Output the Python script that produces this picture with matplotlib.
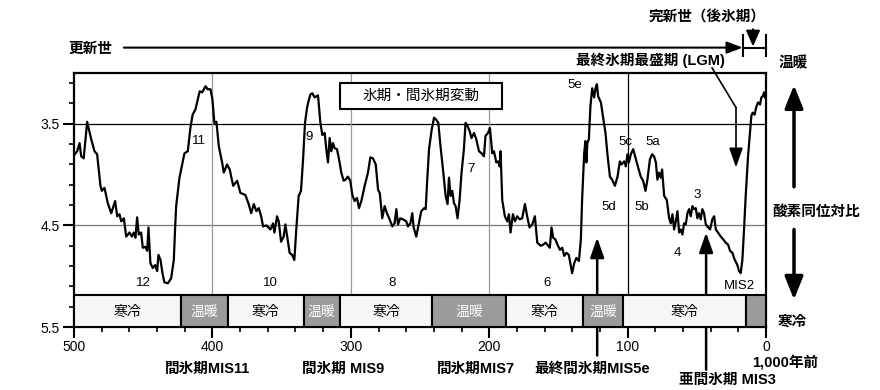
import matplotlib
matplotlib.use("Agg")
from matplotlib import pyplot as plt
from matplotlib.patches import Rectangle

plt.rcParams['font.family'] = ['Liberation Sans', 'Noto Sans CJK JP', 'DejaVu Sans']

# 酸素同位体比 (千年前 / 値) 図から読み取り
age = [500, 497.7, 496, 494.8, 493, 490.5, 487.6, 485.2, 483.3, 480.9, 479.9, 478, 475.6, 473.1,
       470.3, 468.8, 467.1, 465.9, 464, 462.3, 459.9, 458.2, 456.8, 455.6, 454.4, 453.2, 451.5,
       450.3, 448.6, 447.1, 446.2, 444.8, 443.1, 441.4, 439.9, 439, 437.5, 436.1, 434.7, 432.2,
       429.8, 427.9, 426.9, 426.2, 423.8, 422.6, 420.2, 417.8, 415.9, 414.3, 412.3, 410.6, 409.2,
       407.4, 405, 403.4, 401.4, 400, 398.6, 397.1, 395.4, 393, 391.8, 389.4, 387.5, 385, 382.1,
       379.8, 376.2, 373.8, 372, 370.1, 368.2, 366.5, 364.8, 363.4, 361, 358.1, 356.2, 355.2,
       353.3, 352.1, 350.4, 348.5, 347.3, 345.6, 344.2, 342.4, 340.8, 339.4, 337.7, 336, 334.5,
       333.1, 331.6, 330.8, 329.2, 327.8, 326.1, 324.9, 323.7, 323, 322, 320.6, 318.9, 317.7,
       316.5, 315.3, 314.1, 312.9, 311.7, 310, 308.5, 306.9, 305.2, 303.8, 302.1, 300.4, 298.9,
       297.3, 295.5, 294.1, 292.4, 290, 287.6, 285.9, 284, 282, 280.3, 279.1, 277.3, 275.6,
       273.9, 272, 270, 268.4, 267.1, 265.9, 264.3, 262.3, 259.9, 258.7, 257, 255.6, 254.6,
       252.7, 250.8, 249.1, 247, 245.9, 244.8, 243.5, 241.6, 239.9, 238.3, 236.8, 235.2, 233.4,
       231.5, 230.1, 229.1, 227.9, 226.7, 225.5, 224.3, 222.9, 221.4, 220, 218.3, 217.1, 215.7,
       214.2, 212.8, 211, 209.4, 207.4, 205.6, 203.8, 202.7, 200.9, 199.5, 197.8, 196.6, 194.9,
       193.4, 192.5, 191.8, 190.6, 188.7, 187, 185.8, 184.6, 182.9, 181.4, 179.8, 178.1, 176.2,
       174.2, 172.6, 170.9, 168.9, 167, 165.3, 162.7, 161, 159.4, 157.9, 156.2, 155, 153.8,
       152.1, 150.7, 148.9, 147.3, 145.8, 144.2, 142.5, 141, 140.1, 138.6, 137, 135.2, 133.8,
       132.9, 131.4, 130.5, 129.8, 129.1, 128, 126.9, 125.6, 124.2, 123.2, 122.2, 121.3, 119.3,
       117.7, 116, 114.6, 112.8, 111.2, 109.2, 107.3, 105.6, 104.4, 102.5, 101.3, 100.1, 99.1,
       97.7, 96, 94.4, 92.4, 90.5, 88.8, 87.1, 85.7, 83.9, 82.3, 80.9, 79.6, 78.5, 77.3, 76,
       75.1, 73.6, 71.7, 70, 68.8, 67.6, 66.4, 65.2, 64, 62.8, 61.6, 60.4, 59.2, 58, 56.8, 55.6,
       54.4, 53.2, 52, 50.8, 49.6, 48.4, 47.2, 46, 44.8, 43.5, 42.4, 40.4, 38.8, 37.5, 36.3,
       34.7, 32.7, 30.8, 29.1, 27.4, 26, 24.3, 22.6, 20.7, 19.5, 18.3, 17.1, 15.9, 14.7, 13,
       11.6, 10.6, 9.6, 8.2, 7.2, 5.8, 4.3, 3.4, 2.4, 1.4, 0.7]
d18o = [3.81, 3.77, 3.69, 3.82, 3.84, 3.48, 3.65, 3.77, 3.80, 4.11, 4.16, 4.13, 4.28, 4.38,
        4.26, 4.41, 4.39, 4.46, 4.43, 4.61, 4.57, 4.61, 4.57, 4.62, 4.42, 4.59, 4.57,
        4.72, 4.71, 4.75, 4.52, 4.87, 4.92, 4.89, 4.95, 4.79, 4.84, 4.97, 5.06, 5.07,
        5.02, 4.84, 4.51, 4.31, 4.03, 3.95, 3.79, 3.77, 3.54, 3.41, 3.36, 3.26, 3.18,
        3.19, 3.13, 3.16, 3.16, 3.26, 3.49, 3.48, 3.72, 3.88, 3.98, 3.90, 3.95, 4.11, 4.06,
        4.18, 4.20, 4.29, 4.38, 4.29, 4.36, 4.33, 4.41, 4.51, 4.50, 4.54, 4.48, 4.57,
        4.41, 4.46, 4.66, 4.61, 4.49, 4.64, 4.77, 4.79, 4.84, 4.54, 4.21, 4.16, 3.85,
        3.49, 3.34, 3.29, 3.21, 3.20, 3.24, 3.23, 3.22, 3.33, 3.49, 3.61, 3.59, 3.75,
        3.88, 3.64, 3.77, 3.69, 3.74, 3.75, 3.85, 3.98, 4.06, 4.05, 4.02, 4.06, 4.20,
        4.26, 4.23, 4.33, 4.26, 4.11, 3.98, 3.83, 3.84, 3.90, 4.15, 4.18, 4.43, 4.31,
        4.38, 4.44, 4.51, 4.48, 4.34, 4.49, 4.43, 4.44, 4.46, 4.51, 4.48, 4.38, 4.52,
        4.61, 4.48, 4.36, 4.33, 4.34, 4.05, 3.75, 3.56, 3.44, 3.46, 3.49, 3.72, 3.95,
        4.21, 4.29, 4.03, 4.21, 4.16, 4.28, 4.31, 4.43, 4.25, 3.98, 3.75, 3.49, 3.52,
        3.57, 3.64, 3.59, 3.65, 3.77, 3.79, 3.82, 3.62, 3.59, 3.54, 3.79, 3.77, 3.88,
        3.87, 3.92, 3.77, 4.25, 4.41, 4.46, 4.39, 4.57, 4.39, 4.46, 4.41, 4.44, 4.43,
        4.29, 4.41, 4.52, 4.49, 4.41, 4.67, 4.70, 4.69, 4.67, 4.69, 4.72, 4.52, 4.62,
        4.64, 4.69, 4.74, 4.72, 4.80, 4.77, 4.79, 4.90, 4.97, 4.87, 4.82, 4.85, 4.64,
        4.25, 3.79, 3.67, 3.88, 3.69, 3.65, 3.33, 3.15, 3.24, 3.15, 3.11, 3.23, 3.29,
        3.44, 3.59, 3.80, 4.02, 4.05, 4.11, 4.02, 3.87, 3.90, 3.87, 3.92, 3.80, 3.88,
        3.80, 3.75, 3.83, 3.93, 4.02, 4.06, 4.16, 4.05, 3.85, 3.80, 3.82, 3.88, 4.05, 3.98, 4.03,
        3.95, 4.21, 4.25, 4.43, 4.48, 4.39, 4.54, 4.46, 4.36, 4.57, 4.54, 4.59, 4.48, 4.49, 4.38, 4.34,
        4.41, 4.31, 4.34, 4.33, 4.43, 4.38, 4.44, 4.34, 4.38, 4.49, 4.51, 4.54, 4.44, 4.41, 4.54,
        4.57, 4.61, 4.64, 4.67, 4.69, 4.75, 4.77, 4.84, 4.89, 4.95, 4.97, 4.84, 4.54, 4.21, 3.82,
        3.59, 3.42, 3.39, 3.41, 3.34, 3.29, 3.31, 3.24, 3.23, 3.19, 3.24]

# 寒冷・温暖の帯 (境界は千年前)
band_edges = [500, 423, 389, 334, 308, 241, 188, 132, 103, 14.5, 0]
band_warm = [False, True, False, True, False, True, False, True, False, True]
band_text = ['寒冷', '温暖', '寒冷', '温暖', '寒冷', '温暖', '寒冷', '温暖', '寒冷', '']

stage_names = ['12', '11', '10', '9', '8', '7', '6', '5e', '5c', '5a', '5d', '5b', '3', '4', 'MIS2']
stage_pos = [(450, 5.07), (410, 3.67), (358, 5.07), (330, 3.63), (270, 5.07), (213.5, 3.94),
             (158, 5.07), (138, 3.12), (101.8, 3.68), (81.6, 3.68), (113.4, 4.32), (89.5, 4.32),
             (49.6, 4.20), (64, 4.77), (19.5, 5.10)]

fig = plt.figure(figsize=(8.8, 3.9), dpi=100)
ax = fig.add_axes([0.0841, 0.1615, 0.7864, 0.6513])
ax.set_xlim(500, 0)
ax.set_ylim(5.5, 3.0)

band_top = 5.18
# grid lines
ax.axhline(3.5, color='black', lw=0.9, zorder=1)
ax.axhline(4.5, color='#777777', lw=0.9, zorder=1)
for xv, c in [(400, '#999999'), (300, '#999999'), (200, '#999999'), (100, 'black')]:
    ax.plot([xv, xv], [3.0, band_top], color=c, lw=0.9, zorder=1)

ax.plot(age, d18o, color='black', lw=1.6, zorder=3)

# 帯
for i in range(len(band_warm)):
    x0, x1 = band_edges[i], band_edges[i + 1]
    fc = '#9b9b9b' if band_warm[i] else '#f6f6f6'
    ax.add_patch(Rectangle((x1, band_top), x0 - x1, 5.5 - band_top, facecolor=fc,
                           edgecolor='black', lw=1.5, zorder=4))
    if band_text[i]:
        ax.text((x0 + x1) / 2, (band_top + 5.5) / 2 + 0.01, band_text[i], ha='center', va='center',
                fontsize=10, color='white' if band_warm[i] else 'black', zorder=5)

for name, (xs, ys) in zip(stage_names, stage_pos):
    ax.text(xs, ys, name, ha='center', va='center', fontsize=9.5, zorder=5)

# 凡例ボックス
ax.add_patch(Rectangle((190.6, 3.096), 307.6 - 190.6, 3.35 - 3.096, facecolor='white',
                       edgecolor='black', lw=1.5, zorder=5))
ax.text(249, 3.226, '氷期・間氷期変動', ha='center', va='center', fontsize=10.5, zorder=6)

ax.set_xticks([500, 400, 300, 200, 100, 0])
ax.set_xticks(range(0, 501, 20), minor=True)
ax.set_yticks([3.5, 4.5, 5.5])
ax.set_yticks([3.1, 3.3, 3.7, 3.9, 4.1, 4.3, 4.7, 4.9, 5.1, 5.3], minor=True)
ax.tick_params(axis='both', which='major', length=8, width=1.5, labelsize=10, color='black')
ax.tick_params(axis='both', which='minor', length=3.5, width=1.2)
ax.tick_params(axis='x', pad=1)
ax.tick_params(axis='y', pad=2)
for s in ax.spines.values():
    s.set_linewidth(1.6)

bold = dict(fontsize=10.5, fontweight='bold', ha='center', va='center', annotation_clip=False)

# 上部: 更新世 / 完新世
ax.annotate('更新世', xy=(488, 2.76), **bold)
ax.annotate('', xy=(16.8, 2.75), xytext=(464, 2.75), annotation_clip=False,
            arrowprops=dict(arrowstyle='-|>,head_length=0.8,head_width=0.3', lw=1.5, color='black',
                            shrinkA=0, shrinkB=0, mutation_scale=12))
ax.plot([16.6, 16.6], [2.63, 2.83], color='black', lw=1.5, clip_on=False)
ax.plot([0.3, 0.3], [2.63, 2.83], color='black', lw=1.5, clip_on=False)
ax.plot([16.6, 0.3], [2.75, 2.75], color='black', lw=1.5, clip_on=False)
ax.annotate('', xy=(9.4, 2.74), xytext=(9.4, 2.57), annotation_clip=False,
            arrowprops=dict(arrowstyle='-|>,head_length=0.8,head_width=0.35', lw=1.5, color='black',
                            shrinkA=0, shrinkB=0, mutation_scale=12))
ax.annotate('完新世（後氷期）', xy=(42.6, 2.456), **bold)

# LGM
ax.annotate('最終氷期最盛期 (LGM)', xy=(83.8, 2.87), **bold)
ax.plot([39, 21.7], [2.95, 3.34], color='black', lw=1.2, clip_on=False, zorder=6)
ax.annotate('', xy=(21.7, 3.93), xytext=(21.7, 3.34), annotation_clip=False,
            arrowprops=dict(arrowstyle='-|>,head_length=1.0,head_width=0.35', lw=1.2, color='black',
                            shrinkA=0, shrinkB=0, mutation_scale=12))

# 右側
ax.annotate('温暖', xy=(-19.5, 2.90), **bold)
ax.annotate('', xy=(-20.2, 3.12), xytext=(-20.2, 4.12), annotation_clip=False,
            arrowprops=dict(arrowstyle='-|>,head_length=1.0,head_width=0.4', lw=2.5, color='black',
                            shrinkA=0, shrinkB=0, mutation_scale=14))
ax.annotate('酸素同位対比', xy=(-36.5, 4.37), **bold)
ax.annotate('', xy=(-20.2, 5.23), xytext=(-20.2, 4.54), annotation_clip=False,
            arrowprops=dict(arrowstyle='-|>,head_length=1.0,head_width=0.4', lw=2.5, color='black',
                            shrinkA=0, shrinkB=0, mutation_scale=14))
ax.annotate('寒冷', xy=(-18.8, 5.45), **bold)
ax.annotate('1,000年前', xy=(-13.7, 5.85), **bold)

# 下部の間氷期
ax.annotate('間氷期MIS11', xy=(403.6, 5.91), **bold)
ax.annotate('間氷期 MIS9', xy=(305.4, 5.91), **bold)
ax.annotate('間氷期MIS7', xy=(209.4, 5.91), **bold)
ax.annotate('最終間氷期MIS5e', xy=(125.6, 5.91), **bold)
ax.annotate('亜間氷期 MIS3', xy=(28, 6.02), **bold)
ax.annotate('', xy=(122, 4.62), xytext=(122, 5.78), annotation_clip=False,
            arrowprops=dict(arrowstyle='-|>,head_length=1.0,head_width=0.35', lw=1.8, color='black',
                            shrinkA=0, shrinkB=0, mutation_scale=12))
ax.annotate('', xy=(43.3, 4.57), xytext=(43.3, 5.92), annotation_clip=False,
            arrowprops=dict(arrowstyle='-|>,head_length=1.0,head_width=0.35', lw=1.8, color='black',
                            shrinkA=0, shrinkB=0, mutation_scale=12))

fig.savefig('out.png', dpi=100)
